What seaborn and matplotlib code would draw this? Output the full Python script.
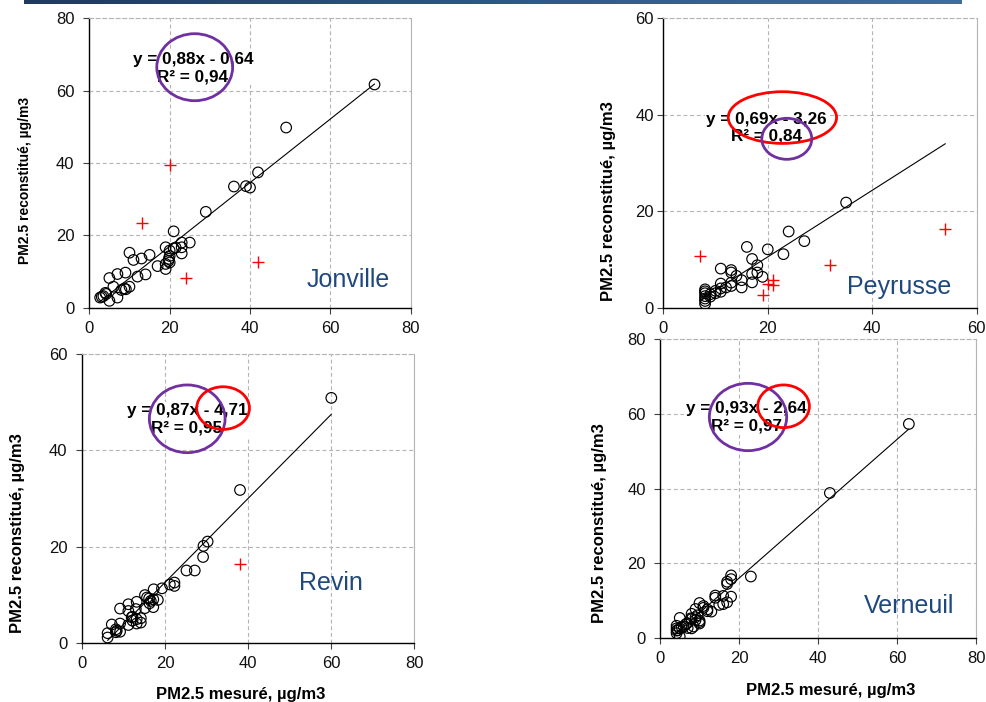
import numpy as np
import pandas as pd
import matplotlib
matplotlib.use("Agg")
import matplotlib.pyplot as plt
from matplotlib.patches import Ellipse
from matplotlib.colors import LinearSegmentedColormap
import seaborn as sns

# ---------------- data ----------------
stations = ["Jonville", "Peyrusse", "Revin", "Verneuil"]

jonville_x = [71, 49, 42, 39, 40, 36, 29, 21, 25, 23, 23, 21, 21.5, 19, 23, 20, 20, 19.8,
              19.7, 19, 19, 17, 15, 13, 11, 10, 14, 12, 9, 7, 5, 10, 8.7, 9.1, 8, 6, 7, 5,
              4, 3.1, 2.7, 4.2, 3.5, 20]
jonville_y = [61.7, 49.8, 37.4, 33.6, 33.2, 33.5, 26.5, 21.1, 18.0, 18.0, 16.7, 16.4, 16.6,
              16.7, 15.0, 15.8, 14.3, 13.5, 12.9, 12.1, 10.7, 11.5, 14.6, 13.6, 13.2, 15.2,
              9.2, 8.6, 9.7, 9.3, 8.2, 5.8, 5.3, 5.1, 4.9, 5.8, 2.8, 1.9, 4.1, 3.0, 2.8, 3.8,
              3.2, 12.5]
jonville_out_x = [20, 13, 24, 42]
jonville_out_y = [39.4, 23.5, 8.3, 12.5]

peyrusse_x = [35, 24, 27, 23, 20, 16, 17, 18, 18, 17, 19, 11, 13, 13, 14, 15, 17, 15, 13,
              13, 11, 11, 12, 10, 9, 8, 8, 8, 8, 8, 8, 8, 9, 10, 11]
peyrusse_y = [21.8, 15.8, 13.8, 11.1, 12.1, 12.6, 10.1, 8.8, 7.3, 7.0, 6.4, 8.1, 7.8, 7.3,
              6.6, 5.7, 5.25, 4.2, 4.5, 5.2, 5.0, 4.0, 4.2, 3.5, 2.8, 3.8, 3.4, 3.0, 2.4,
              1.9, 1.4, 0.8, 2.3, 3.0, 3.3]
peyrusse_out_x = [7, 19, 20, 21, 21, 32, 54]
peyrusse_out_y = [10.8, 2.6, 5.0, 5.8, 4.7, 8.8, 16.4]

revin_x = [60, 38, 30.2, 29.2, 29.1, 27.1, 25.1, 22.2, 22.2, 21.1, 19.2, 17.2, 18.2, 17.1,
           16.2, 15.1, 15.1, 13.1, 11.1, 9.1, 11.1, 12.1, 13.1, 14.1, 14.1, 13.1, 11.1, 9.1,
           7.1, 9.1, 8.1, 8.1, 6.1, 6.1, 16.1, 17.1, 12.9, 11.9, 12.1, 8.3, 16.5, 15.6]
revin_y = [50.9, 31.8, 21.1, 20.2, 17.9, 15.1, 15.1, 12.6, 11.9, 12.2, 11.4, 11.2, 9.0, 7.5,
           8.3, 10.0, 7.3, 8.6, 8.1, 7.2, 6.7, 5.5, 5.0, 5.2, 4.3, 4.1, 3.8, 4.1, 3.9, 2.4,
           2.3, 2.9, 2.1, 1.2, 9.3, 9.1, 7.1, 5.4, 4.7, 2.6, 8.8, 9.5]
revin_out_x = [38]
revin_out_y = [16.4]

verneuil_x = [63, 43, 23, 18, 18, 17, 17, 18, 16, 14, 14, 17, 16, 15, 13, 12, 11, 10, 9, 8,
              9, 10, 10, 5, 5, 8, 7.8, 6.8, 5, 4.2, 4.2, 4.2, 4.2, 9, 10, 8.5, 6, 7, 11,
              9.5, 4.5, 5.5, 6.5, 8, 12]
verneuil_y = [57.3, 38.8, 16.4, 16.7, 15.7, 15.0, 14.4, 11.0, 11.2, 11.3, 10.7, 9.5, 9.0,
              8.8, 7.0, 7.1, 8.5, 9.3, 7.7, 6.4, 5.5, 3.8, 4.6, 5.3, 0.3, 5.0, 5.2, 3.8, 2.5,
              2.5, 3.2, 1.9, 1.2, 4.7, 4.2, 3.0, 3.0, 2.6, 8.0, 6.0, 2.0, 2.8, 3.6, 2.5, 7.6]
verneuil_out_x = []
verneuil_out_y = []

slopes = [0.88, 0.69, 0.87, 0.93]
intercepts = [-0.64, -3.26, -4.71, -2.64]
r2_values = [0.94, 0.84, 0.95, 0.97]

x_ticks = [[0, 20, 40, 60, 80], [0, 20, 40, 60], [0, 20, 40, 60, 80], [0, 20, 40, 60, 80]]
y_ticks = [[0, 20, 40, 60, 80], [0, 20, 40, 60], [0, 20, 40, 60], [0, 20, 40, 60, 80]]

xlabel_text = "PM2.5 mesuré, µg/m3"
ylabel_text = "PM2.5 reconstitué, µg/m3"

# ---------------- layout / style ----------------
W, H = 987, 702
DPI = 100
axes_px = [(89.3, 18.3, 410.7, 307.7), (663.3, 18.3, 976.7, 307.7),
           (82.3, 354.0, 414.3, 643.3), (660.0, 339.3, 976.0, 637.7)]
eq_pos = [(25.8, 66.3), (19.7, 37.3), (25.2, 46.5), (21.8, 59.0)]
name_pos = [(0.807, 0.0726), (0.7527, 0.0473), (0.7476, 0.184), (0.7886, 0.0838)]
ypad = [6.6, 2.8, 6.6, 6.0]
# ellipses in axes fractions: (cx, cy, w, h, color)
PURPLE, RED = "#7030A0", "#FF0000"
ellipses = [
    [(0.328, 0.831, 0.236, 0.2315, PURPLE)],
    [(0.380, 0.657, 0.3456, 0.1786, RED), (0.394, 0.5836, 0.1595, 0.1417, PURPLE)],
    [(0.316, 0.776, 0.228, 0.234, PURPLE), (0.424, 0.813, 0.159, 0.1475, RED)],
    [(0.2785, 0.7396, 0.2447, 0.2256, PURPLE), (0.391, 0.7755, 0.1635, 0.143, RED)],
]
ylabel_pos = [(25.5, 180, 10), (608, 200.8, 12), (17.5, 533, 12), (600, 523, 12)]
xlabel_pos = [None, None, (240.8, 699.5), (830.3, 695.5)]

sns.set_style("white")
plt.rcParams["font.family"] = ["Liberation Sans", "DejaVu Sans"]

data_x = [jonville_x, peyrusse_x, revin_x, verneuil_x]
data_y = [jonville_y, peyrusse_y, revin_y, verneuil_y]
out_x = [jonville_out_x, peyrusse_out_x, revin_out_x, verneuil_out_x]
out_y = [jonville_out_y, peyrusse_out_y, revin_out_y, verneuil_out_y]

fig = plt.figure(figsize=(W / DPI, H / DPI), dpi=DPI, facecolor="white")

# top banner gradient
bar = fig.add_axes([24 / W, 1 - 4 / H, 938 / W, 4 / H])
grad = np.linspace(0, 1, 256).reshape(1, -1)
cmap = LinearSegmentedColormap.from_list("bn", ["#1F3A5C", "#2E5786", "#3D6E9F"])
bar.imshow(grad, aspect="auto", cmap=cmap)
bar.set_axis_off()

GRID = "#b4b4b4"
for i, st in enumerate(stations):
    l, t, r, b = axes_px[i]
    ax = fig.add_axes([l / W, 1 - b / H, (r - l) / W, (b - t) / H])
    df = pd.DataFrame({"x": data_x[i], "y": data_y[i]})
    dfo = pd.DataFrame({"x": out_x[i], "y": out_y[i]})

    ax.set_axisbelow(True)
    ax.grid(True, color=GRID, linestyle=(0, (3.5, 2.5)), linewidth=0.8)

    sns.scatterplot(data=df, x="x", y="y", ax=ax, marker="o", s=58,
                    facecolors="none", edgecolors="black", linewidths=0.85, zorder=3)
    if len(dfo):
        sns.scatterplot(data=dfo, x="x", y="y", ax=ax, marker="+", s=70,
                        color="red", linewidths=1.0, zorder=3)

    allx = np.array(list(data_x[i]) + list(out_x[i]))
    xs = np.array([allx.min(), allx.max()])
    fit = pd.DataFrame({"x": xs, "y": slopes[i] * xs + intercepts[i]})
    sns.lineplot(data=fit, x="x", y="y", ax=ax, color="black", linewidth=0.8, zorder=2)

    ax.set_xlim(x_ticks[i][0], x_ticks[i][-1])
    ax.set_ylim(y_ticks[i][0], y_ticks[i][-1])
    ax.set_xticks(x_ticks[i])
    ax.set_yticks(y_ticks[i])
    ax.set_xlabel("")
    ax.set_ylabel("")
    ax.tick_params(axis="both", direction="out", length=4, width=0.8, color="#404040",
                   labelsize=12, labelcolor="#111111", left=True, bottom=True)
    ax.tick_params(axis="y", pad=ypad[i])
    ax.tick_params(axis="x", pad=5.5)

    for s in ["left", "bottom"]:
        ax.spines[s].set_color("black")
        ax.spines[s].set_linewidth(1.0)
    ax.spines["right"].set_color(GRID)
    ax.spines["right"].set_linewidth(0.8)
    ax.spines["top"].set_color(GRID)
    ax.spines["top"].set_linewidth(0.8)
    ax.spines["top"].set_linestyle((0, (3.5, 2.5)))

    eq = ("y = {:.2f}x - {:.2f}\nR² = {:.2f}".format(slopes[i], abs(intercepts[i]), r2_values[i])
          ).replace(".", ",")
    ax.text(eq_pos[i][0], eq_pos[i][1], eq, ha="center", va="center", fontsize=12.3,
            fontweight="bold", color="black", linespacing=1.2, zorder=4,
            bbox=dict(facecolor="white", edgecolor="none", pad=1.0))

    for (cx, cy, ew, eh, col) in ellipses[i]:
        ax.add_patch(Ellipse((cx, cy), ew, eh, transform=ax.transAxes, fill=False,
                             edgecolor=col, linewidth=2.0, zorder=5))

    ax.text(name_pos[i][0], name_pos[i][1], st, transform=ax.transAxes, ha="center",
            va="baseline", fontsize=18, color="#1F497D", zorder=4)

    yx, yy, yfs = ylabel_pos[i]
    fig.text(yx / W, 1 - yy / H, ylabel_text, rotation=90, ha="center", va="center",
             fontsize=yfs, fontweight="bold", color="black")
    if xlabel_pos[i] is not None:
        xx, xy = xlabel_pos[i]
        fig.text(xx / W, 1 - xy / H, xlabel_text, ha="center", va="baseline",
                 fontsize=12, fontweight="bold", color="black")

fig.savefig("out.png", dpi=DPI, facecolor="white")
